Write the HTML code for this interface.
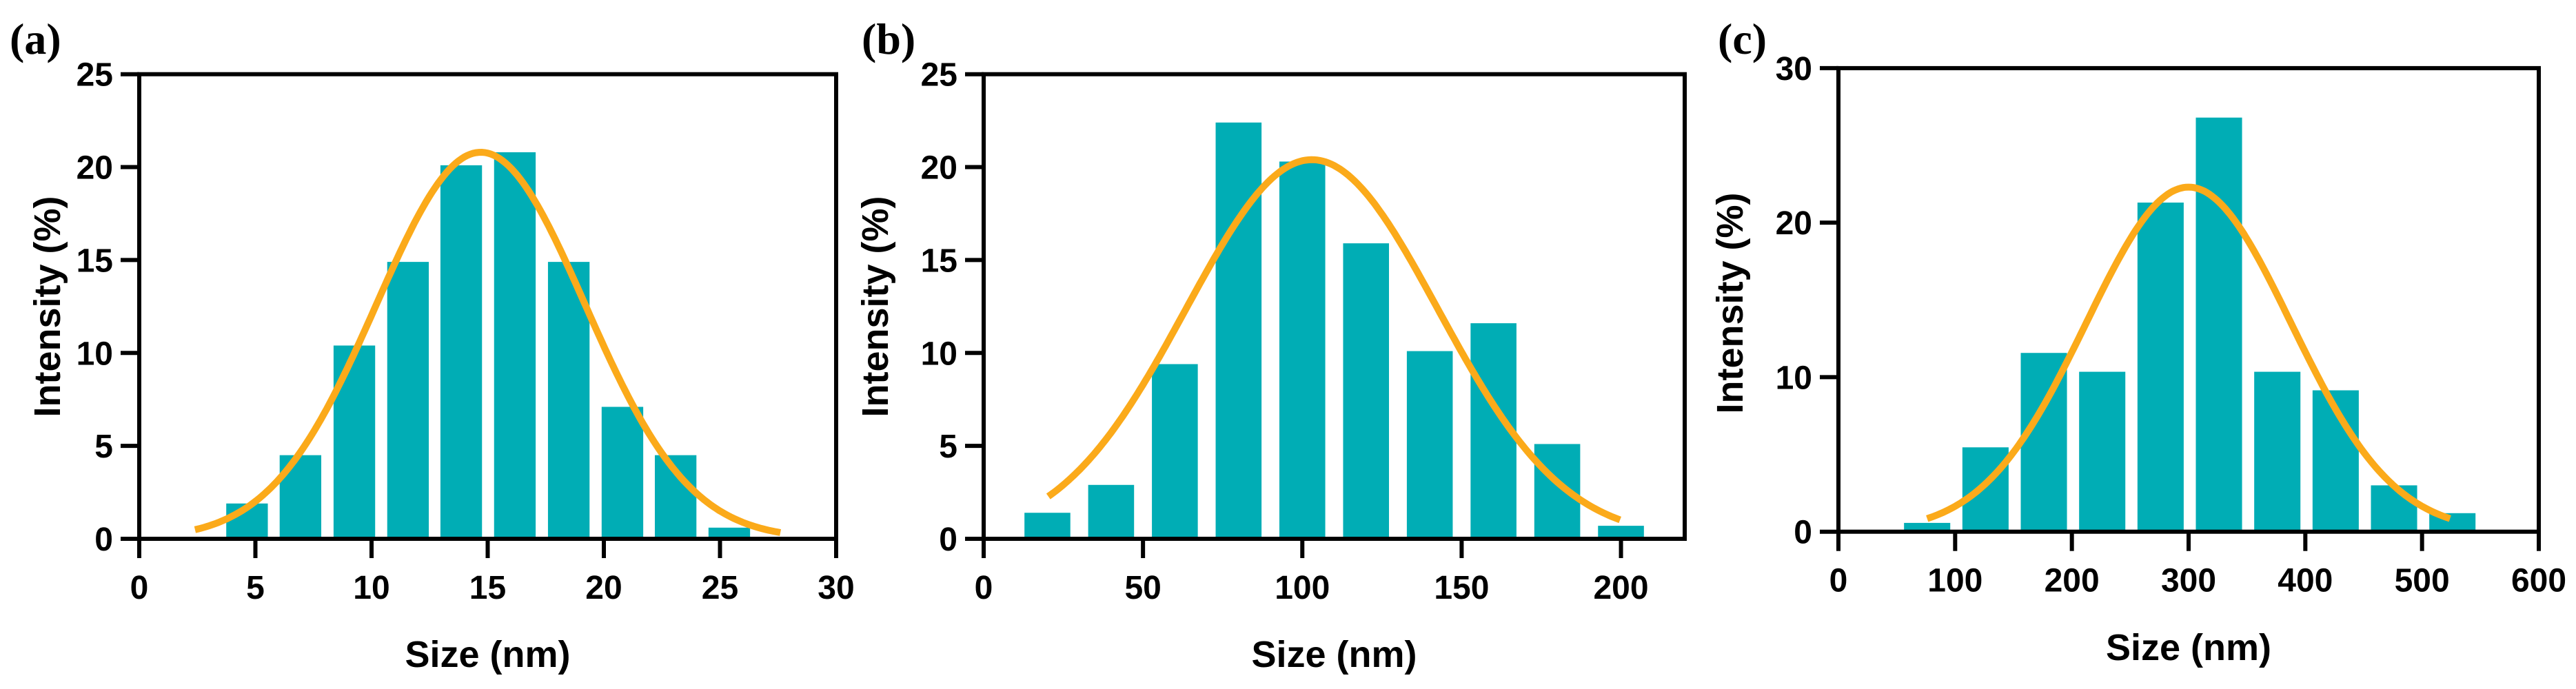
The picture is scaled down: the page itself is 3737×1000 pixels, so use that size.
<!DOCTYPE html>
<html><head><meta charset="utf-8"><style>
html,body{margin:0;padding:0;background:#fff}
svg{display:block}
text{font-family:"Liberation Sans",Arial,sans-serif;font-weight:bold;fill:#000}
.pl{font-family:"Liberation Serif",serif;font-weight:bold}
</style></head><body>
<svg id="fig" width="3737" height="1000" viewBox="0 0 3737 1000" xmlns="http://www.w3.org/2000/svg"></svg>
<script>
// Panel (a)
const aCenters = [4.64, 6.94, 9.26, 11.57, 13.86, 16.17, 18.49, 20.8, 23.09, 25.4];
const aValues = [1.9, 4.5, 10.4, 14.9, 20.1, 20.8, 14.9, 7.1, 4.5, 0.6];
const aXTicks = [0, 5, 10, 15, 20, 25, 30];
const aYTicks = [0, 5, 10, 15, 20, 25];
const aFit = [20.8, 14.7, 4.49, 2.4, 27.6]; // amplitude, mean, sigma, start, end
// Panel (b)
const bCenters = [20, 40, 60, 80, 100, 120, 140, 160, 180, 200];
const bValues = [1.4, 2.9, 9.4, 22.4, 20.3, 15.9, 10.1, 11.6, 5.1, 0.7];
const bXTicks = [0, 50, 100, 150, 200];
const bYTicks = [0, 5, 10, 15, 20, 25];
const bFit = [20.4, 103, 39.5, 20.3, 199.7];
// Panel (c)
const cCenters = [76, 126, 176, 226, 276, 326, 376, 426, 476, 526];
const cValues = [0.57, 5.46, 11.57, 10.35, 21.3, 26.8, 10.35, 9.15, 3.0, 1.2];
const cXTicks = [0, 100, 200, 300, 400, 500, 600];
const cYTicks = [0, 10, 20, 30];
const cFit = [22.3, 300, 87.6, 76, 524];

const NS = "http://www.w3.org/2000/svg";
const svg = document.getElementById('fig');
function mk(tag, attrs, parent, txt){
  const e = document.createElementNS(NS, tag);
  for (const k in attrs) e.setAttribute(k, attrs[k]);
  if (txt !== undefined) e.textContent = txt;
  (parent || svg).appendChild(e);
  return e;
}

function panel(cfg){
  const g = mk('g', {});
  
  
  const X = v => cfg.x0 + (v - cfg.xmin) / (cfg.xmax - cfg.xmin) * (cfg.x1 - cfg.x0);
  const Y = v => cfg.y0 - (v - cfg.ymin) / (cfg.ymax - cfg.ymin) * (cfg.y0 - cfg.y1);
  // bars
  cfg.centers.forEach((c, i) => {
    const v = cfg.values[i];
    const r = mk('rect', {x: X(c - cfg.bw/2), y: Y(v), width: X(c + cfg.bw/2) - X(c - cfg.bw/2), height: Y(0) - Y(v), fill: '#00ADB5'}, g);
    
    
  });
  // fit curve
  const [A, mu, sg, s, e] = cfg.fit;
  let d = '';
  for (let k = 0; k <= 200; k++){
    const xv = s + (e - s) * k / 200;
    const yv = A * Math.exp(-(xv - mu) * (xv - mu) / (2 * sg * sg));
    d += (k ? 'L' : 'M') + X(xv).toFixed(1) + ',' + Y(yv).toFixed(1);
  }
  const p = mk('path', {d: d, fill: 'none', stroke: '#FBAA1A', 'stroke-width': 10, 'stroke-linecap': 'butt'}, g);
  
  
  // frame
  const fr = mk('rect', {x: cfg.x0, y: cfg.y1, width: cfg.x1 - cfg.x0, height: cfg.y0 - cfg.y1, fill: 'none', stroke: '#000', 'stroke-width': 6}, g);
  
  
  // y ticks
  cfg.yt.forEach(t => {
    const y = Y(t);
    const l = mk('line', {x1: cfg.x0 - 27, x2: cfg.x0, y1: y, y2: y, stroke: '#000', 'stroke-width': 6}, g);
    
    
    const tx = mk('text', {x: cfg.x0 - 38, y: y + 17, 'font-size': 48, 'text-anchor': 'end'}, g, String(t));
    
    
  });
  // x ticks
  cfg.xt.forEach(t => {
    const x = X(t);
    const l = mk('line', {x1: x, x2: x, y1: cfg.y0, y2: cfg.y0 + 28, stroke: '#000', 'stroke-width': 6}, g);
    
    
    const tx = mk('text', {x: x, y: cfg.y0 + 87, 'font-size': 48, 'text-anchor': 'middle'}, g, String(t));
    
    
  });
  // titles
  const xc = (cfg.x0 + cfg.x1) / 2;
  const xt = mk('text', {x: xc, y: cfg.xtY, 'font-size': 54, 'text-anchor': 'middle'}, g, 'Size (nm)');
  
  
  const yt = mk('text', {x: 0, y: 0, 'font-size': 54, 'text-anchor': 'middle', transform: 'translate(' + cfg.ytX + ',' + cfg.ytY + ') rotate(-90)'}, g, 'Intensity (%)');
  
  
  const pl = mk('text', {x: cfg.plX, y: 78, 'font-size': 64, class: 'pl'}, g, '(' + cfg.id + ')');
  
  
}

panel({id:'a', x0:202, x1:1213, xmin:0, xmax:30, y0:782, y1:107.7, ymin:0, ymax:25,
  centers:aCenters, values:aValues, bw:1.79, fit:aFit, xt:aXTicks, yt:aYTicks,
  xtY:968, ytX:87, ytY:445, plX:14});
panel({id:'b', x0:1427, x1:2444, xmin:0, xmax:220, y0:782, y1:107.7, ymin:0, ymax:25,
  centers:bCenters, values:bValues, bw:14.4, fit:bFit, xt:bXTicks, yt:bYTicks,
  xtY:968, ytX:1288, ytY:445, plX:1250});
panel({id:'c', x0:2667, x1:3683, xmin:0, xmax:600, y0:771.7, y1:98.9, ymin:0, ymax:30,
  centers:cCenters, values:cValues, bw:39.6, fit:cFit, xt:cXTicks, yt:cYTicks,
  xtY:958, ytX:2528, ytY:440, plX:2492});
</script>
</body></html>
